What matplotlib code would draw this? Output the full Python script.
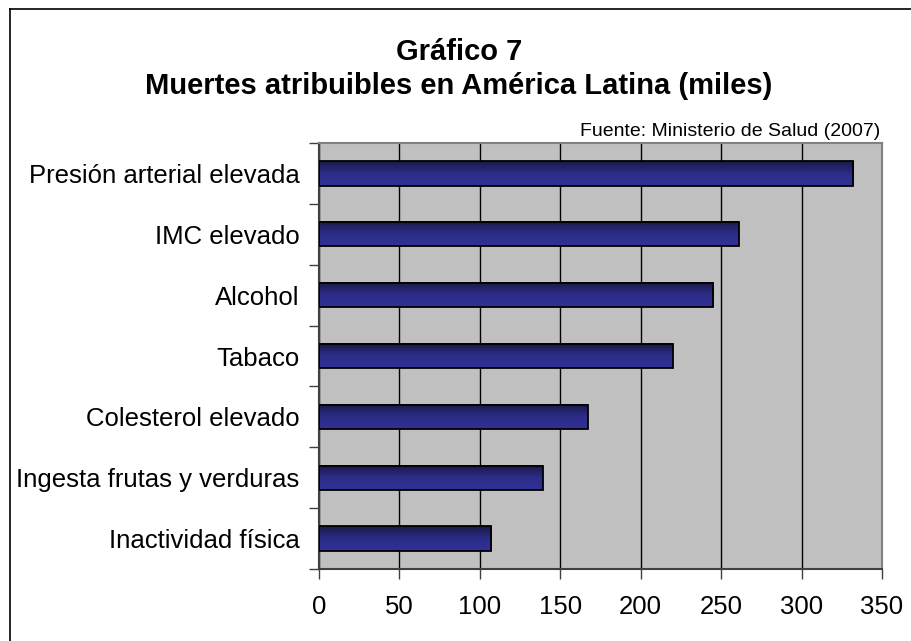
import numpy as np
import matplotlib.pyplot as plt
from matplotlib.colors import LinearSegmentedColormap
from matplotlib.lines import Line2D

plt.rcParams['font.family'] = ['Liberation Sans', 'DejaVu Sans']

# datos (miles de muertes)
categorias = ["Inactividad física", "Ingesta frutas y verduras", "Colesterol elevado",
              "Tabaco", "Alcohol", "IMC elevado", "Presión arterial elevada"]
muertes = [107, 139, 167, 220, 245, 261, 332]
xticks = [0, 50, 100, 150, 200, 250, 300, 350]

W, H = 912, 641
fig = plt.figure(figsize=(W / 100, H / 100), dpi=100)
ax = fig.add_axes([319 / W, 1 - 569 / H, (882 - 319) / W, (569 - 143) / H])
ax.set_facecolor("#c0c0c0")

y = np.arange(len(categorias))
bars = ax.barh(y, muertes, height=0.4, color="none", edgecolor="black", linewidth=1.3, zorder=4)

# degradado vertical tipo Excel
cmap = LinearSegmentedColormap.from_list("excel", ["#313196", "#2c2c88", "#1a1a48"])
grad = np.linspace(0, 1, 64).reshape(-1, 1)
for b in bars:
    x0, y0 = b.get_x(), b.get_y()
    ax.imshow(grad, cmap=cmap, aspect="auto", origin="lower",
              extent=[x0, x0 + b.get_width(), y0, y0 + b.get_height()], zorder=3)

ax.set_xlim(0, 350)
ax.set_ylim(-0.5, len(categorias) - 0.5)
ax.set_xticks(xticks)
ax.set_xticklabels([str(t) for t in xticks], fontsize=18.5)
ax.set_yticks(y)
ax.set_yticklabels(categorias, fontsize=18.5)
ax.tick_params(axis="y", length=0, pad=14)
ax.tick_params(axis="x", length=7, width=1, pad=12, color="#404040")
ax.set_yticks(np.arange(-0.5, len(categorias), 1), minor=True)
ax.tick_params(axis="y", which="minor", length=7, width=1, color="#404040")
ax.set_axisbelow(True)
ax.grid(axis="x", color="black", linewidth=1, zorder=1)

for s in ["top", "right"]:
    ax.spines[s].set_color("#808080")
    ax.spines[s].set_linewidth(1.5)
for s in ["left", "bottom"]:
    ax.spines[s].set_color("#404040")
    ax.spines[s].set_linewidth(1.5)

fig.text(459 / W, 1 - 52 / H, "Gráfico 7", ha="center", va="center", fontsize=21, fontweight="bold")
fig.text(459 / W, 1 - 86 / H, "Muertes atribuibles en América Latina (miles)",
         ha="center", va="center", fontsize=21, fontweight="bold")
fig.text(880 / W, 1 - 131 / H, "Fuente: Ministerio de Salud (2007)", ha="right", va="center", fontsize=14)

# marco del gráfico
fig.add_artist(Line2D([10.5 / W, 10.5 / W], [0, 1 - 8.5 / H], color="black", linewidth=1.2))
fig.add_artist(Line2D([10.5 / W, 1], [1 - 8.5 / H, 1 - 8.5 / H], color="black", linewidth=1.2))

fig.savefig("out.png", dpi=100)
